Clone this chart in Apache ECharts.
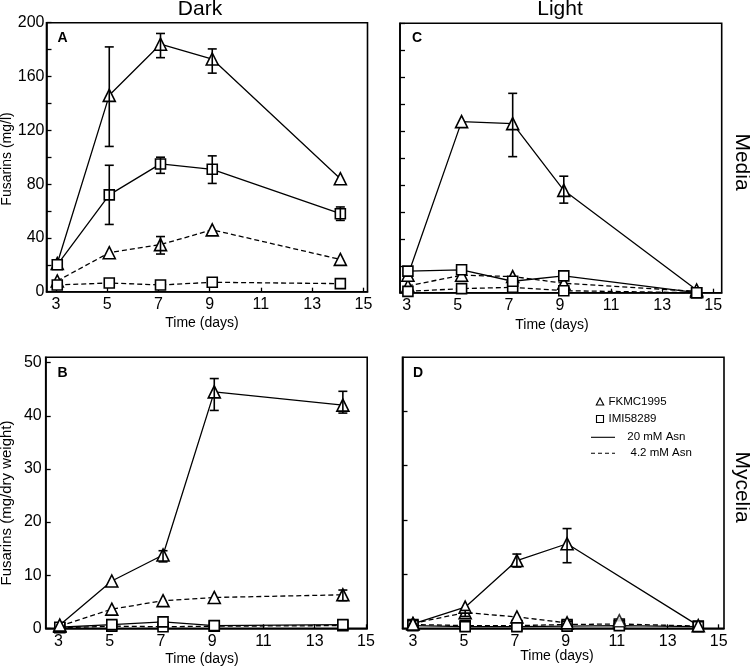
<!DOCTYPE html>
<html><head><meta charset="utf-8">
<script src="https://cdn.jsdelivr.net/npm/echarts@6/dist/echarts.min.js"></script>
<style>html,body{margin:0;padding:0;background:#fff}#c{width:750px;height:667px}</style>
</head><body><div id="c"></div>
<script>
// ---- tick labels ----
const xTickLabels = [3, 5, 7, 9, 11, 13, 15];
const yLabelsMedia = [0, 40, 80, 120, 160, 200];
const yTicksMedia = [0, 20, 40, 60, 80, 100, 120, 140, 160, 180, 200];
const yLabelsMyc = [0, 10, 20, 30, 40, 50];
const yTicksMycD = [10, 20, 30, 40];

// ---- Panel A : Dark / Media (mg/l) ----
const daysA = [3.05, 5.08, 7.08, 9.1, 14.1];
const A_fk20 = [21, 146, 184, 173, 84];
const A_fk20_lo = [null, 108, 174, 162.5, null];
const A_fk20_hi = [null, 182, 192, 180.5, null];
const A_imi20 = [20, 72, 95, 91, 58];
const A_imi20_lo = [null, 50, 88, 80.5, 53];
const A_imi20_hi = [null, 94, 100, 101, 63];
const A_fk42 = [8, 29, 35, 46, 24];
const A_fk42_lo = [null, null, 28, null, null];
const A_fk42_hi = [null, null, 41, null, null];
const A_imi42 = [5, 6.5, 5, 7, 6];

// ---- Panel B : Dark / Mycelia ----
const daysB = [3.05, 5.08, 7.08, 9.08, 14.1];
const B_fk20 = [0.6, 8.9, 13.8, 44.5, 42];
const B_fk20_lo = [null, null, 12.5, 41, 40.5];
const B_fk20_hi = [null, null, 14.6, 47, 44.6];
const B_fk42 = [0.4, 3.6, 5.2, 5.8, 6.3];
const B_fk42_lo = [null, null, null, null, 5.2];
const B_fk42_hi = [null, null, null, null, 7.2];
const B_imi20 = [0.2, 0.7, 1.2, 0.5, 0.7];
const B_imi42 = [0.1, 0.4, 0.3, 0.4, 0.5];

// ---- Panel C : Light / Media ----
const daysC = [3.05, 5.15, 7.15, 9.15, 14.35];
const C_fk20 = [13, 127, 125.5, 76, 2];
const C_fk20_lo = [null, null, 101, 66.5, null];
const C_fk20_hi = [null, null, 148, 86.5, null];
const C_imi20 = [16, 17, 8.5, 12.5, 0];
const C_fk42 = [5, 13, 12, 7, 1];
const C_imi42 = [1, 3, 4, 1.5, 0];

// ---- Panel D : Light / Mycelia ----
const daysD = [3.0, 5.05, 7.08, 9.05, 14.2];
const D_fk20 = [0.8, 3.9, 12.5, 15.6, 0.5];
const D_fk20_lo = [null, null, 11.3, 12.1, null];
const D_fk20_hi = [null, null, 13.7, 18.4, null];
const daysD42 = [3.0, 5.05, 7.08, 9.05];
const D_fk42 = [0.9, 2.9, 2.1, 1.0];
const D_fk42_lo = [null, 2.2, null, null];
const D_fk42_hi = [null, 3.3, null, null];
const daysDimi = [3.0, 5.05, 7.08, 9.05, 11.1, 14.2];
const D_imi20 = [0.5, 0.3, 0.3, 0.4, 0.5, 0.3];
const D_imi42 = [0.7, 0.5, 0.5, 0.7, 0.8, 0.4];
const daysD11 = [11.1];
const D_fk_day11 = [1.4];

const FONT = "'Liberation Sans', Arial, Helvetica, sans-serif";

const grids = [
  {left: 46.5, top: 22.7, width: 321, height: 269},   // A
  {left: 45.7, top: 357.3, width: 321.5, height: 271}, // B
  {left: 400, top: 23.3, width: 321.7, height: 269.4}, // C
  {left: 402.5, top: 357.3, width: 321.5, height: 271} // D
];
const xRanges = [[2.63, 15.16], [2.5, 15.05], [2.74, 15.33], [2.59, 15.21]];
const yRanges = [[0, 200], [0, 51], [0, 200], [0, 50]];
const yLabelSets = [yLabelsMedia, yLabelsMyc, null, null];
const yTickSets = [yTicksMedia, yLabelsMyc, yTicksMedia, yTicksMycD];

const xAxes = grids.map((g, i) => ({
  type: 'value', gridIndex: i, min: xRanges[i][0], max: xRanges[i][1],
  axisLine: {show: true, lineStyle: {color: '#000', width: 1.6}},
  axisTick: {show: true, inside: true, length: 4, customValues: xTickLabels, lineStyle: {color: '#000', width: 1.3}},
  axisLabel: {show: true, customValues: xTickLabels, margin: 5, color: '#000', fontSize: 16, fontFamily: FONT},
  splitLine: {show: false}
}));
const yAxes = grids.map((g, i) => ({
  type: 'value', gridIndex: i, min: yRanges[i][0], max: yRanges[i][1],
  axisLine: {show: true, lineStyle: {color: '#000', width: 1.6}},
  axisTick: {show: true, inside: true, length: 5, customValues: yTickSets[i], lineStyle: {color: '#000', width: 1.3}},
  axisLabel: yLabelSets[i] ? {show: true, customValues: yLabelSets[i], margin: i === 0 ? 2 : 4, color: '#000', fontSize: 16, fontFamily: FONT} : {show: false},
  splitLine: {show: false}
}));

function pairs(days, vals) { return days.map((d, i) => [d, vals[i]]); }
function lineS(gi, days, vals, sym, dashed) {
  const isTri = sym === 'triangle';
  return {
    type: 'line', xAxisIndex: gi, yAxisIndex: gi, data: pairs(days, vals),
    symbol: sym, symbolSize: isTri ? [12, 12] : [10, 10], showSymbol: true,
    lineStyle: {color: '#000', width: 1.3, type: dashed ? [5, 3] : 'solid'},
    itemStyle: {color: '#fff', borderColor: '#000', borderWidth: 1.6},
    clip: false, z: 3, animation: false, silent: true
  };
}
function scatterS(gi, days, vals, sym) {
  return {
    type: 'scatter', xAxisIndex: gi, yAxisIndex: gi, data: pairs(days, vals),
    symbol: sym, symbolSize: sym === 'triangle' ? [12, 12] : [10, 10],
    itemStyle: {color: '#fff', borderColor: '#000', borderWidth: 1.6}, z: 3, animation: false, silent: true
  };
}
function errS(gi, days, lo, hi) {
  const data = [];
  days.forEach((d, i) => { if (lo[i] != null) data.push([d, lo[i], hi[i]]); });
  return {
    type: 'custom', xAxisIndex: gi, yAxisIndex: gi, data, z: 5, animation: false, silent: true,
    encode: {x: 0, y: [1, 2]},
    renderItem(params, api) {
      const x = api.value(0);
      const p1 = api.coord([x, api.value(1)]);
      const p2 = api.coord([x, api.value(2)]);
      const w = 4.5;
      const st = {stroke: '#000', lineWidth: 1.6, fill: null};
      return {type: 'group', children: [
        {type: 'line', shape: {x1: p1[0], y1: p1[1], x2: p2[0], y2: p2[1]}, style: st},
        {type: 'line', shape: {x1: p1[0] - w, y1: p1[1], x2: p1[0] + w, y2: p1[1]}, style: st},
        {type: 'line', shape: {x1: p2[0] - w, y1: p2[1], x2: p2[0] + w, y2: p2[1]}, style: st}
      ]};
    }
  };
}

const series = [
  // A
  lineS(0, daysA, A_fk42, 'triangle', true),
  lineS(0, daysA, A_imi42, 'rect', true),
  lineS(0, daysA, A_fk20, 'triangle', false),
  lineS(0, daysA, A_imi20, 'rect', false),
  errS(0, daysA, A_fk20_lo, A_fk20_hi),
  errS(0, daysA, A_imi20_lo, A_imi20_hi),
  errS(0, daysA, A_fk42_lo, A_fk42_hi),
  // B
  lineS(1, daysB, B_imi42, 'rect', true),
  lineS(1, daysB, B_imi20, 'rect', false),
  lineS(1, daysB, B_fk42, 'triangle', true),
  lineS(1, daysB, B_fk20, 'triangle', false),
  errS(1, daysB, B_fk20_lo, B_fk20_hi),
  errS(1, daysB, B_fk42_lo, B_fk42_hi),
  // C
  lineS(2, daysC, C_fk42, 'triangle', true),
  lineS(2, daysC, C_imi42, 'rect', true),
  lineS(2, daysC, C_fk20, 'triangle', false),
  lineS(2, daysC, C_imi20, 'rect', false),
  errS(2, daysC, C_fk20_lo, C_fk20_hi),
  // D
  lineS(3, daysDimi, D_imi42, 'rect', true),
  lineS(3, daysDimi, D_imi20, 'rect', false),
  lineS(3, daysD42, D_fk42, 'triangle', true),
  lineS(3, daysD, D_fk20, 'triangle', false),
  scatterS(3, daysD11, D_fk_day11, 'triangle'),
  errS(3, daysD, D_fk20_lo, D_fk20_hi),
  errS(3, daysD42, D_fk42_lo, D_fk42_hi)
];

function txt(x, y, text, size, opts) {
  return Object.assign({
    type: 'text', x, y, silent: true, z: 10,
    style: Object.assign({text, fontSize: size, fontFamily: FONT, fill: '#000', align: 'center', verticalAlign: 'middle'}, (opts && opts.style) || {})
  }, opts ? {rotation: opts.rotation || 0} : {});
}

const graphic = [
  txt(200, 9, 'Dark', 21),
  txt(560, 9, 'Light', 21),
  txt(742, 162, 'Media', 21, {rotation: -Math.PI / 2}),
  txt(742, 487, 'Mycelia', 21, {rotation: -Math.PI / 2}),
  txt(7, 159, 'Fusarins (mg/l)', 14, {rotation: Math.PI / 2}),
  txt(7, 503, 'Fusarins (mg/dry weight)', 15, {rotation: Math.PI / 2}),
  txt(202, 323, 'Time (days)', 14),
  txt(552, 325, 'Time (days)', 14),
  txt(202, 659, 'Time (days)', 14),
  txt(557, 656, 'Time (days)', 14),
  txt(62.5, 38, 'A', 14, {style: {fontWeight: 'bold'}}),
  txt(62.5, 373, 'B', 14, {style: {fontWeight: 'bold'}}),
  txt(417, 38, 'C', 14, {style: {fontWeight: 'bold'}}),
  txt(418, 373, 'D', 14, {style: {fontWeight: 'bold'}}),
  // legend (panel D)
  {type: 'polygon', silent: true, z: 10, shape: {points: [[600, 398], [596.3, 405], [603.7, 405]]}, style: {fill: '#fff', stroke: '#000', lineWidth: 1.1}},
  {type: 'rect', silent: true, z: 10, shape: {x: 596.5, y: 415.5, width: 7, height: 7}, style: {fill: '#fff', stroke: '#000', lineWidth: 1.1}},
  {type: 'line', silent: true, z: 10, shape: {x1: 591, y1: 437.3, x2: 615, y2: 437.3}, style: {stroke: '#000', lineWidth: 1.1}},
  {type: 'line', silent: true, z: 10, shape: {x1: 591, y1: 453.3, x2: 615, y2: 453.3}, style: {stroke: '#000', lineWidth: 1.1, lineDash: [4, 3]}},
  txt(608.5, 402, 'FKMC1995', 11.5, {style: {align: 'left'}}),
  txt(608.5, 419, 'IMI58289', 11.5, {style: {align: 'left'}}),
  txt(627.3, 437.3, '20 mM Asn', 11.5, {style: {align: 'left'}}),
  txt(630.5, 453.3, '4.2 mM Asn', 11.5, {style: {align: 'left'}})
];

const chart = echarts.init(document.getElementById('c'), null, {renderer: 'canvas'});
chart.setOption({
  animation: false,
  backgroundColor: '#fff',
  grid: grids.map(g => Object.assign({show: true, borderColor: '#000', borderWidth: 1.6, backgroundColor: 'transparent', containLabel: false}, g)),
  xAxis: xAxes,
  yAxis: yAxes,
  series,
  graphic
});
</script>
</body></html>
